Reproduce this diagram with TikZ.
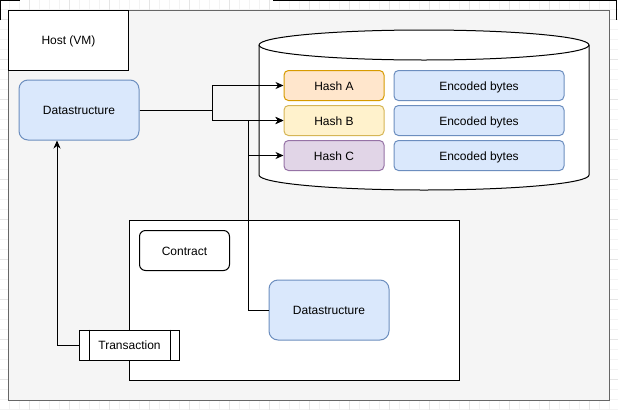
\documentclass[tikz,border=0pt]{standalone}
\usepackage{fontspec}
\setmainfont{Liberation Sans}
\usetikzlibrary{positioning,calc,arrows.meta}
\definecolor{gridminor}{RGB}{243,243,243}
\definecolor{gridmajor}{RGB}{229,229,229}
\definecolor{hostfill}{RGB}{245,245,245}
\definecolor{hostline}{RGB}{102,102,102}
\definecolor{bluefill}{RGB}{218,232,252}
\definecolor{blueline}{RGB}{108,142,191}
\definecolor{orangefill}{RGB}{255,230,204}
\definecolor{orangeline}{RGB}{215,155,0}
\definecolor{yellowfill}{RGB}{255,242,204}
\definecolor{yellowline}{RGB}{214,182,86}
\definecolor{purplefill}{RGB}{225,213,231}
\definecolor{purpleline}{RGB}{150,115,166}

\begin{document}
\begin{tikzpicture}[
    x=1pt, y=-1pt,
    font=\fontsize{12pt}{14pt}\selectfont,
    line width=1pt,
    every node/.append style={text height=9.8pt, text depth=0.8pt},
    box/.style={rectangle, draw, fill=white, minimum width=120pt, minimum height=60pt},
    rbox/.style={box, rounded corners=9pt},
    datanode/.style={rbox, fill=bluefill, draw=blueline},
    hashnode/.style={rectangle, draw, rounded corners=4.5pt, minimum width=100pt, minimum height=30pt},
    bytesnode/.style={hashnode, fill=bluefill, draw=blueline, minimum width=170pt},
    link/.style={-{Stealth[length=8pt,width=7pt,inset=2.5pt]}}
]
    \useasboundingbox (0,0) rectangle (618,410);

    % Grid
    \foreach \gx in {9.5,19.5,...,609.5} \draw[gridminor, line width=0.8pt] (\gx,0) -- (\gx,410);
    \foreach \gy in {9.5,19.5,...,409.5} \draw[gridminor, line width=0.8pt] (0,\gy) -- (618,\gy);
    \foreach \gx in {29.5,69.5,...,589.5} \draw[gridmajor, line width=0.8pt] (\gx,0) -- (\gx,410);
    \foreach \gy in {19.5,59.5,...,379.5} \draw[gridmajor, line width=0.8pt] (0,\gy) -- (618,\gy);
    \draw (0.5,20) -- (0.5,0.5) -- (20,0.5);
    \draw (273,0.5) -- (616.5,0.5) -- (616.5,20);

    % Host
    \node[draw=hostline, fill=hostfill, minimum width=600.5pt, minimum height=390pt] (vm) at (308.75,205) {};
    \node[box, anchor=north west] (hostlabel) at (vm.north west) {Host (VM)};

    % Storage
    \draw[fill=white] (259,45) -- (259,175) arc[start angle=180, end angle=0, x radius=165, y radius=15]
        -- (589,45) arc[start angle=0, end angle=-180, x radius=165, y radius=15] -- cycle;
    \draw (259,45) arc[start angle=180, end angle=0, x radius=165, y radius=15];

    \node[hashnode, fill=orangefill, draw=orangeline] (hasha) at (334,85.5) {Hash A};
    \node[hashnode, fill=yellowfill, draw=yellowline, below=4pt of hasha] (hashb) {Hash B};
    \node[hashnode, fill=purplefill, draw=purpleline, below=4pt of hashb] (hashc) {Hash C};
    \node[bytesnode, right=9pt of hasha] (bytesa) {Encoded bytes};
    \node[bytesnode, right=9pt of hashb] (bytesb) {Encoded bytes};
    \node[bytesnode, right=9pt of hashc] (bytesc) {Encoded bytes};

    % Data
    \node[datanode] (dsouter) at (79,110) {Datastructure};

    % Contract
    \node[box, minimum width=330pt, minimum height=160pt] (contractbox) at (294.5,300) {};
    \node[rbox, minimum width=90pt, minimum height=40pt, rounded corners=6pt] (contract) at (184.5,250.5) {Contract};
    \node[datanode] (dsinner) at (329,310) {Datastructure};
    \node[box, minimum width=100pt, minimum height=30pt] (tx) at (129.5,345) {Transaction};
    \draw ([xshift=10pt]tx.north west) -- ([xshift=10pt]tx.south west);
    \draw ([xshift=-10pt]tx.north east) -- ([xshift=-10pt]tx.south east);

    % Edges
    \draw[link] (dsouter.east) -- ++(73,0) |- (hasha.west);
    \draw[link] (dsouter.east) -- ++(73,0) |- (hashb.west);
    \draw[link] (dsinner.west) -- ++(-20,0) |- (hashb.west);
    \draw[link] (dsinner.west) -- ++(-20,0) |- (hashc.west);
    \draw[link] (tx.west) -| ([xshift=-22pt]dsouter.south);
\end{tikzpicture}
\end{document}
